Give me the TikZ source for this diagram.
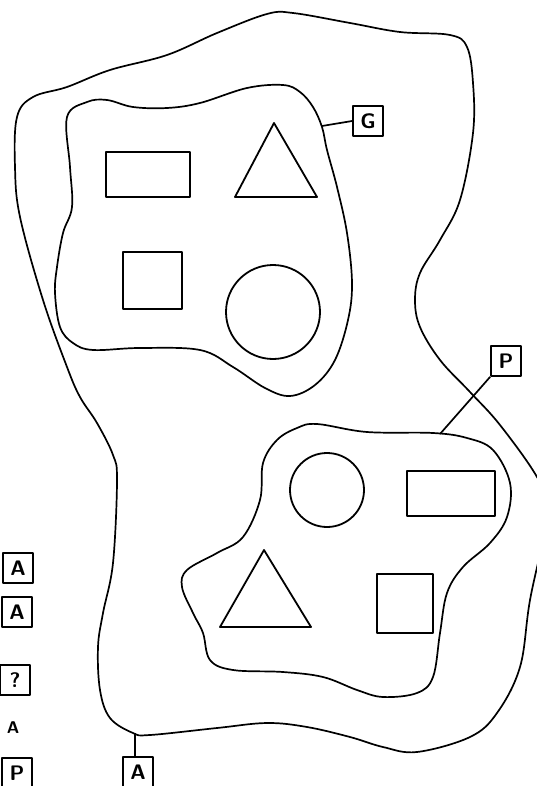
\documentclass[tikz,border=0pt]{standalone}
\tikzset{
  tag/.style={draw,line width=1.7pt,minimum width=30pt,minimum height=30pt,inner sep=0pt,
    font=\sffamily\bfseries\fontsize{21}{21}\selectfont},
  blob/.style={line width=1.7pt,smooth cycle,tension=0.6},
  fig/.style={line width=1.8pt}
}
\begin{document}
\begin{tikzpicture}[x=1pt,y=-1pt,line join=round]
  \useasboundingbox (0,0) rectangle (537,786);

  % outer region A
  \draw[blob] plot coordinates {(33,97) (67,87) (110,70) (167,55) (217,33) (267,14) (293,13)
    (350,23) (400,32) (450,35) (467,47) (473,83) (473,133) (460,200) (440,240) (420,273)
    (415,300) (420,327) (440,360) (470,392) (500,425) (537,477) (548,510) (530,600)
    (520,667) (497,713) (470,737) (417,752) (383,747) (350,737) (307,727) (267,723)
    (217,728) (150,735) (133,733) (110,718) (100,690) (98,647) (103,613) (113,563)
    (117,480) (113,455) (97,423) (80,397) (67,367) (43,300) (20,217) (15,167) (17,117)};

  % group G
  \draw[blob] plot coordinates {(67,117) (87,102) (107,100) (133,107) (167,108) (200,103)
    (247,88) (283,85) (300,92) (313,107) (322,127) (327,150) (337,187) (347,233)
    (352,283) (348,320) (335,360) (315,385) (290,396) (265,388) (233,367) (200,350) (140,348)
    (93,350) (73,343) (60,327) (55,293) (57,267) (63,233) (72,207) (70,167)};

  % group P
  \draw[blob] plot coordinates {(297,428) (317,424) (367,432) (433,433) (467,438) (493,450)
    (510,483) (507,517) (490,543) (463,567) (447,593) (440,633) (433,677) (417,693)
    (383,697) (357,690) (323,677) (283,672) (233,670) (210,660) (203,633) (193,613)
    (182,587) (187,570) (217,553) (243,537) (260,500) (263,463) (277,440)};

  % figures in G
  \draw[fig] (106,152) rectangle (190,197);
  \draw[fig] (274,123) -- (317,197) -- (235,197) -- cycle;
  \draw[fig] (123,252) rectangle (182,309);
  \draw[fig] (273,312) circle (47);

  % figures in P
  \draw[fig] (327,490) circle (37);
  \draw[fig] (407,471) rectangle (495,516);
  \draw[fig] (264,550) -- (311,627) -- (220,627) -- cycle;
  \draw[fig] (377,574) rectangle (433,633);

  % tags
  \node[tag] (tagG) at (368,121) {G};
  \node[tag] (tagP) at (506,361) {P};
  \node[tag] (tagA) at (138,772) {A};
  \coordinate (pinG) at (322,126);
  \coordinate (pinP) at (440,434);
  \coordinate (pinA) at (135,733);
  \draw[line width=1.7pt] (pinG) -- (tagG.west);
  \draw[line width=1.7pt] (pinP) -- (tagP.south west);
  \draw[line width=2pt] (pinA) -- (tagA.north -| pinA);

  % legend at the left
  \node[tag] (keyA) at (18,568) {A};
  \node[tag] (keyB) at (17,612) {A};
  \node[tag] (keyC) at (15,680) {?};
  \node[font=\sffamily\bfseries\fontsize{17}{17}\selectfont] (keyD) at (13,728) {A};
  \node[tag] (keyE) at (17,773) {P};
\end{tikzpicture}
\end{document}
